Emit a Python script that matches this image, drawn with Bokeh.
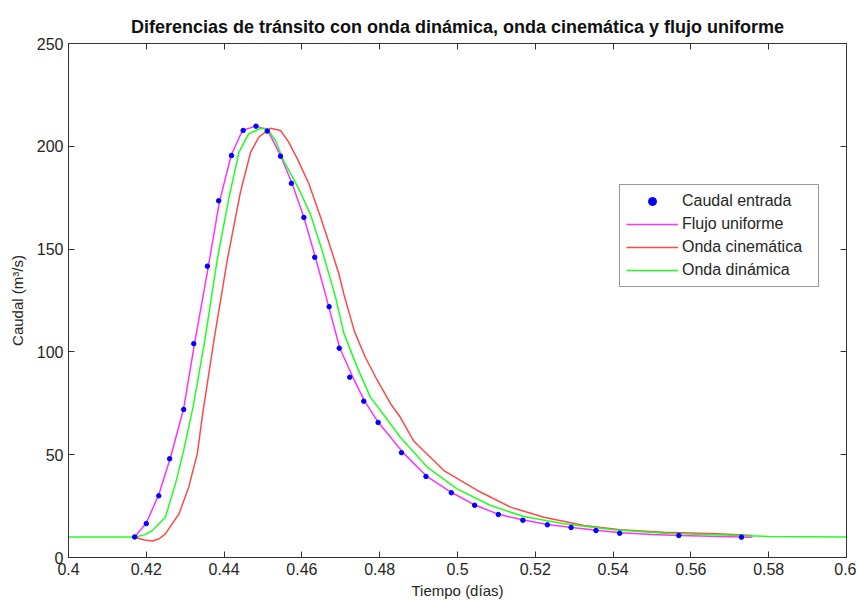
from bokeh.plotting import figure
from bokeh.models import (FixedTicker, LinearAxis, Legend, LegendItem, Range1d)
from bokeh.embed import file_html
from bokeh.resources import INLINE

# ---------------- data ----------------
t_in = [0.4170, 0.4200, 0.4232, 0.4260, 0.4296, 0.4322, 0.4357, 0.4386, 0.4419, 0.4449,
        0.4482, 0.4511, 0.4545, 0.4573, 0.4605, 0.4633, 0.4670, 0.4696, 0.4723, 0.4759,
        0.4796, 0.4856, 0.4919, 0.4984, 0.5044, 0.5105, 0.5168, 0.5231, 0.5292, 0.5356,
        0.5417, 0.5569, 0.5730]
q_in = [10, 16.5, 30, 48, 72, 104, 141.7, 173.5, 195.5, 207.7,
        209.8, 207.4, 195.2, 182, 165.4, 146, 122, 101.8, 87.7, 76,
        65.7, 51, 39.4, 31.5, 25.4, 20.9, 18.1, 15.9, 14.6, 13.1,
        11.8, 10.7, 9.9]

t_fu = [0.4170, 0.4200, 0.4232, 0.4262, 0.4296, 0.4324, 0.4359, 0.4388, 0.4418, 0.4447,
        0.4481, 0.4511, 0.4545, 0.4575, 0.4605, 0.4635, 0.4669, 0.4697, 0.4731, 0.4760,
        0.4796, 0.4828, 0.4860, 0.4920, 0.4985, 0.5045, 0.5106, 0.5170, 0.5232, 0.5295,
        0.5357, 0.5420, 0.5500, 0.5570, 0.5650, 0.5758]
q_fu = [10, 16.8, 30.5, 48.5, 72.5, 104, 141, 173, 195.5, 207.7,
        209.8, 208.2, 195.5, 181.8, 165.5, 145.8, 122, 102, 87.7, 76.4,
        65.8, 58.5, 51, 39.6, 31.6, 25.5, 21, 18.2, 16, 14.6,
        13.2, 12, 11.2, 10.7, 10.3, 9.9]

t_oc = [0.4170, 0.4195, 0.4215, 0.4232, 0.4249, 0.4284, 0.4309, 0.4331, 0.4345, 0.4375,
        0.4408, 0.4442, 0.4468, 0.4489, 0.4519, 0.4545, 0.4566, 0.4588, 0.4618, 0.4648,
        0.4665, 0.4695, 0.4708, 0.4735, 0.4763, 0.4794, 0.4828, 0.4853, 0.4888, 0.4965,
        0.5051, 0.5136, 0.5222, 0.5325, 0.5419, 0.5530, 0.5667, 0.5758]
q_oc = [10, 8.5, 8, 9, 11.5, 21.2, 34.2, 50.4, 70, 107,
        144.5, 177.7, 197, 204.4, 208.8, 207.7, 202, 194, 181.8, 165.5,
        155.8, 138, 128, 110, 97.4, 86.1, 74.8, 68.2, 56.5, 42.3,
        32.6, 24.5, 19.6, 15.6, 13.5, 12.3, 11.5, 10.7]

t_od = [0.4000, 0.4170, 0.4195, 0.4215, 0.4249, 0.4275, 0.4296, 0.4320, 0.4350, 0.4382,
        0.4412, 0.4438, 0.4463, 0.4494, 0.4511, 0.4532, 0.4553, 0.4590, 0.4622, 0.4652,
        0.4686, 0.4708, 0.4742, 0.4776, 0.4815, 0.4853, 0.4922, 0.4999, 0.5085, 0.5170,
        0.5273, 0.5402, 0.5530, 0.5745, 0.5800, 0.6000]
q_od = [10, 10, 11, 13, 19.6, 35.8, 52, 73, 105, 144.5,
        174.5, 197, 206, 208.8, 208.5, 202.8, 193, 180, 167, 149.3,
        127, 109, 92.6, 78, 68.2, 58.5, 44, 33.4, 25.3, 19.9,
        16.4, 13.5, 11.8, 10.6, 10.2, 10]

x_ticks = [0.4, 0.42, 0.44, 0.46, 0.48, 0.5, 0.52, 0.54, 0.56, 0.58, 0.6]
x_tick_labels = ["0.4", "0.42", "0.44", "0.46", "0.48", "0.5", "0.52", "0.54", "0.56", "0.58", "0.6"]
y_ticks = [0, 50, 100, 150, 200, 250]

title_text = "Diferencias de tránsito con onda dinámica, onda cinemática y flujo uniforme"
x_label = "Tiempo (días)"
y_label = "Caudal (m³/s)"
names = ["Caudal entrada", "Flujo uniforme", "Onda cinemática", "Onda dinámica"]

# ---------------- figure ----------------
FONT = "Liberation Sans"
TXT = "#262626"
AX = "#333333"

p = figure(frame_width=778, frame_height=514,
           min_border_left=68, min_border_right=10, min_border_top=43, min_border_bottom=44,
           x_range=Range1d(0.4, 0.6), y_range=Range1d(0, 250),
           output_backend="svg", toolbar_location=None, x_axis_label=x_label, y_axis_label=y_label)

p.title.text = title_text
p.title.align = "center"
p.title.text_font = FONT
p.title.text_font_size = "18px"
p.title.text_font_style = "bold"
p.title.text_color = "#111111"
p.title.standoff = 14

p.xgrid.visible = False
p.ygrid.visible = False
p.outline_line_color = AX
p.outline_line_width = 1
p.background_fill_color = "white"
p.border_fill_color = "white"

for ax, ticks in ((p.xaxis[0], x_ticks), (p.yaxis[0], y_ticks)):
    ax.ticker = FixedTicker(ticks=ticks)
    ax.minor_tick_line_color = None
    ax.major_tick_in = 6
    ax.major_tick_out = 0
    ax.axis_line_color = AX
    ax.major_tick_line_color = AX
    ax.major_label_text_font = FONT
    ax.major_label_text_font_size = "16px"
    ax.major_label_text_color = TXT
    ax.axis_label_text_font = FONT
    ax.axis_label_text_font_size = "15px"
    ax.axis_label_text_font_style = "normal"
    ax.axis_label_text_color = TXT

p.xaxis[0].major_label_overrides = {t: s for t, s in zip(x_ticks, x_tick_labels)}
p.xaxis[0].major_label_standoff = 5
p.xaxis[0].axis_label_standoff = 4
p.yaxis[0].major_label_standoff = 5
p.yaxis[0].axis_label_standoff = 8

for side, ticks in (("above", x_ticks), ("right", y_ticks)):
    a = LinearAxis(ticker=FixedTicker(ticks=ticks))
    a.major_label_overrides = {t: "" for t in ticks}
    a.major_label_standoff = 0
    a.minor_tick_line_color = None
    a.major_tick_in = 6
    a.major_tick_out = 0
    a.axis_line_color = AX
    a.major_tick_line_color = AX
    p.add_layout(a, side)

r_fu = p.line(t_fu, q_fu, line_color="#ff33ff", line_width=1.5)
r_oc = p.line(t_oc, q_oc, line_color="#ff4848", line_width=1.5)
r_od = p.line(t_od, q_od, line_color="#22ff22", line_width=1.5)
r_in = p.scatter(t_in, q_in, marker="circle", size=4.5, fill_color="#0000ff", line_color="#0000ff")

legend = Legend(items=[LegendItem(label=names[0], renderers=[r_in]),
                       LegendItem(label=names[1], renderers=[r_fu]),
                       LegendItem(label=names[2], renderers=[r_oc]),
                       LegendItem(label=names[3], renderers=[r_od])],
                location=(551, 270))
legend.label_text_font = FONT
legend.label_text_font_size = "16px"
legend.label_text_color = TXT
legend.glyph_width = 52
legend.glyph_height = 20
legend.label_height = 20
legend.label_width = 130
legend.label_standoff = 4
legend.spacing = 3
legend.padding = 6
legend.margin = 0
legend.border_line_color = AX
legend.border_line_width = 1
legend.background_fill_color = "white"
legend.background_fill_alpha = 1
p.add_layout(legend, "center")

open("out.html", "w").write(file_html(p, INLINE))
